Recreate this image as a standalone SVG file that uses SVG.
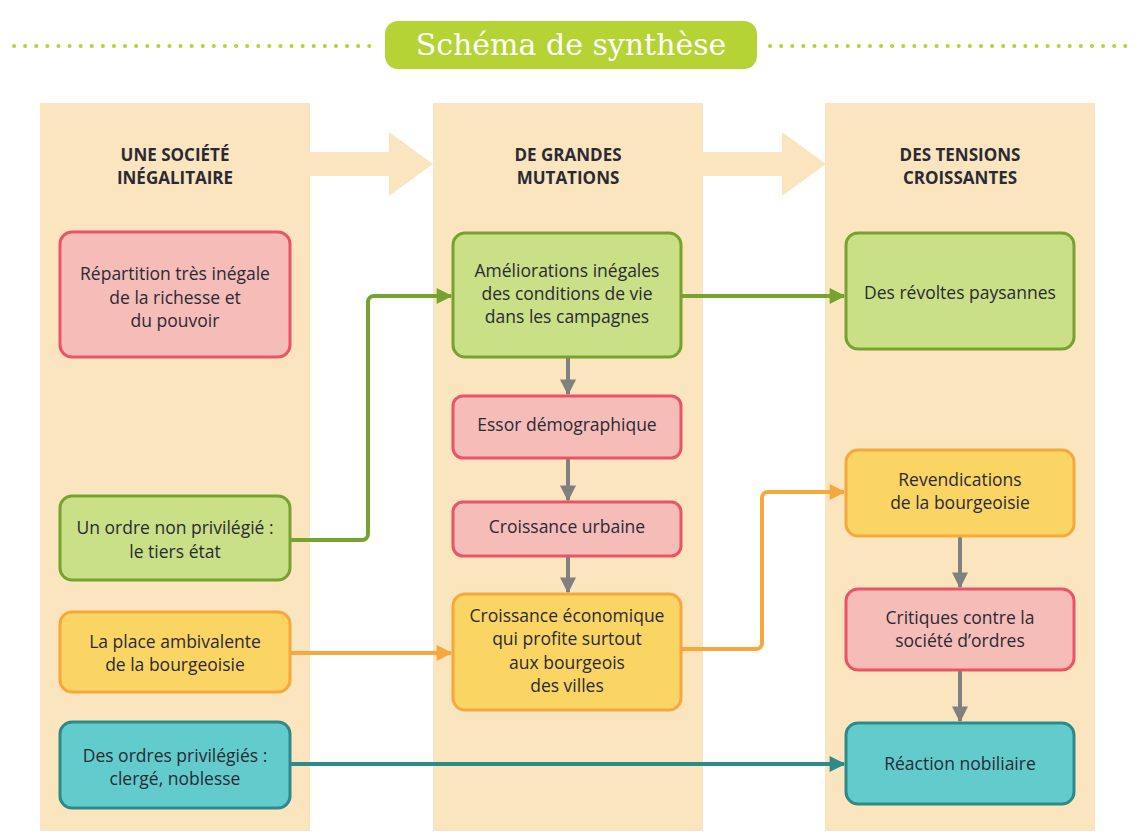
<svg xmlns="http://www.w3.org/2000/svg" width="1148" height="839" viewBox="0 0 1148 839">
<style>
.col{fill:#fbe5bf}
.h{font:bold 17px "Open Sans","Noto Sans",sans-serif;fill:#2a2a35;text-anchor:middle}
.t{font:17.5px "Open Sans","Noto Sans",sans-serif;fill:#2a2a35;text-anchor:middle}
.g{fill:#c9e086;stroke:#77a22f;stroke-width:3}
.r{fill:#f5bcb8;stroke:#ec5466;stroke-width:3}
.y{fill:#fbd564;stroke:#f5a93d;stroke-width:3}
.c{fill:#62cccc;stroke:#2c8b89;stroke-width:3}
.l{fill:none;stroke-width:4;stroke-linejoin:round}
</style>
<defs>
<marker id="ag" viewBox="0 0 10 10" refX="9" refY="5" markerWidth="5" markerHeight="4" orient="auto" markerUnits="strokeWidth"><path d="M0 0L10 5L0 10z" fill="#77a22f"/></marker>
<marker id="ay" viewBox="0 0 10 10" refX="9" refY="5" markerWidth="5" markerHeight="4" orient="auto" markerUnits="strokeWidth"><path d="M0 0L10 5L0 10z" fill="#f5a93d"/></marker>
<marker id="ac" viewBox="0 0 10 10" refX="9" refY="5" markerWidth="5" markerHeight="4" orient="auto" markerUnits="strokeWidth"><path d="M0 0L10 5L0 10z" fill="#2c8b89"/></marker>
<marker id="ak" viewBox="0 0 10 10" refX="9" refY="5" markerWidth="5" markerHeight="4" orient="auto" markerUnits="strokeWidth"><path d="M0 0L10 5L0 10z" fill="#808080"/></marker>
</defs>
<g id="title">
<line x1="14" y1="46" x2="375" y2="46" stroke="#b5d334" stroke-width="4" stroke-linecap="round" stroke-dasharray="0.1 11"/>
<line x1="770" y1="46" x2="1135" y2="46" stroke="#b5d334" stroke-width="4" stroke-linecap="round" stroke-dasharray="0.1 11"/>
<rect x="385" y="21" width="372" height="48" rx="13" fill="#b5d334"/>
<text x="571" y="55" font-family="DejaVu Serif,serif" font-size="30" fill="#fff" text-anchor="middle">Schéma de synthèse</text>
</g>
<g id="columns">
<rect class="col" x="40" y="103" width="270" height="728"/>
<rect class="col" x="433" y="103" width="270" height="728"/>
<rect class="col" x="825" y="103" width="270" height="728"/>
<path class="col" d="M310 152H389V132L433 164L389 196V176H310z"/>
<path class="col" d="M703 152H782V132L826 164L782 196V176H703z"/>
<text class="h" x="175" y="161">UNE SOCIÉTÉ</text><text class="h" x="175" y="184">INÉGALITAIRE</text>
<text class="h" x="568" y="161">DE GRANDES</text><text class="h" x="568" y="184">MUTATIONS</text>
<text class="h" x="960" y="161">DES TENSIONS</text><text class="h" x="960" y="184">CROISSANTES</text>
</g>
<g id="connectors">
<path class="l" stroke="#77a22f" d="M290 540H362a6 6 0 0 0 6-6V302a6 6 0 0 1 6-6H451" marker-end="url(#ag)"/>
<path class="l" stroke="#77a22f" d="M681 296H844" marker-end="url(#ag)"/>
<path class="l" stroke="#f5a93d" d="M290 653H451" marker-end="url(#ay)"/>
<path class="l" stroke="#f5a93d" d="M681 649H756a6 6 0 0 0 6-6V498a6 6 0 0 1 6-6H844" marker-end="url(#ay)"/>
<path class="l" stroke="#2c8b89" d="M290 764H844" marker-end="url(#ac)"/>
<path class="l" stroke="#808080" d="M568 357V394" marker-end="url(#ak)"/>
<path class="l" stroke="#808080" d="M568 458V500" marker-end="url(#ak)"/>
<path class="l" stroke="#808080" d="M568 556V592" marker-end="url(#ak)"/>
<path class="l" stroke="#808080" d="M960 536V587" marker-end="url(#ak)"/>
<path class="l" stroke="#808080" d="M960 670V721" marker-end="url(#ak)"/>
</g>
<g id="n1"><rect class="r" x="60" y="232" width="230" height="125" rx="12"/><text class="t" x="175" y="280">Répartition très inégale</text><text class="t" x="175" y="304">de la richesse et</text><text class="t" x="175" y="327">du pouvoir</text></g>
<g id="n2"><rect class="g" x="60" y="496" width="230" height="84" rx="12"/><text class="t" x="175" y="534">Un ordre non privilégié :</text><text class="t" x="175" y="558">le tiers état</text></g>
<g id="n3"><rect class="y" x="60" y="612" width="230" height="80" rx="12"/><text class="t" x="175" y="648">La place ambivalente</text><text class="t" x="175" y="671">de la bourgeoisie</text></g>
<g id="n4"><rect class="c" x="60" y="722" width="230" height="86" rx="12"/><text class="t" x="175" y="762">Des ordres privilégiés :</text><text class="t" x="175" y="785">clergé, noblesse</text></g>
<g id="n5"><rect class="g" x="453" y="233" width="228" height="124" rx="12"/><text class="t" x="567" y="277">Améliorations inégales</text><text class="t" x="567" y="300">des conditions de vie</text><text class="t" x="567" y="323">dans les campagnes</text></g>
<g id="n6"><rect class="r" x="453" y="396" width="228" height="62" rx="10"/><text class="t" x="567" y="431">Essor démographique</text></g>
<g id="n7"><rect class="r" x="453" y="502" width="228" height="54" rx="10"/><text class="t" x="567" y="533">Croissance urbaine</text></g>
<g id="n8"><rect class="y" x="453" y="594" width="228" height="116" rx="12"/><text class="t" x="567" y="622">Croissance économique</text><text class="t" x="567" y="645">qui profite surtout</text><text class="t" x="567" y="669">aux bourgeois</text><text class="t" x="567" y="692">des villes</text></g>
<g id="n9"><rect class="g" x="846" y="233" width="228" height="116" rx="12"/><text class="t" x="960" y="299">Des révoltes paysannes</text></g>
<g id="n10"><rect class="y" x="846" y="450" width="228" height="86" rx="12"/><text class="t" x="960" y="486">Revendications</text><text class="t" x="960" y="509">de la bourgeoisie</text></g>
<g id="n11"><rect class="r" x="846" y="589" width="228" height="81" rx="12"/><text class="t" x="960" y="624">Critiques contre la</text><text class="t" x="960" y="647">société d’ordres</text></g>
<g id="n12"><rect class="c" x="846" y="723" width="228" height="81" rx="12"/><text class="t" x="960" y="770">Réaction nobiliaire</text></g>
</svg>
